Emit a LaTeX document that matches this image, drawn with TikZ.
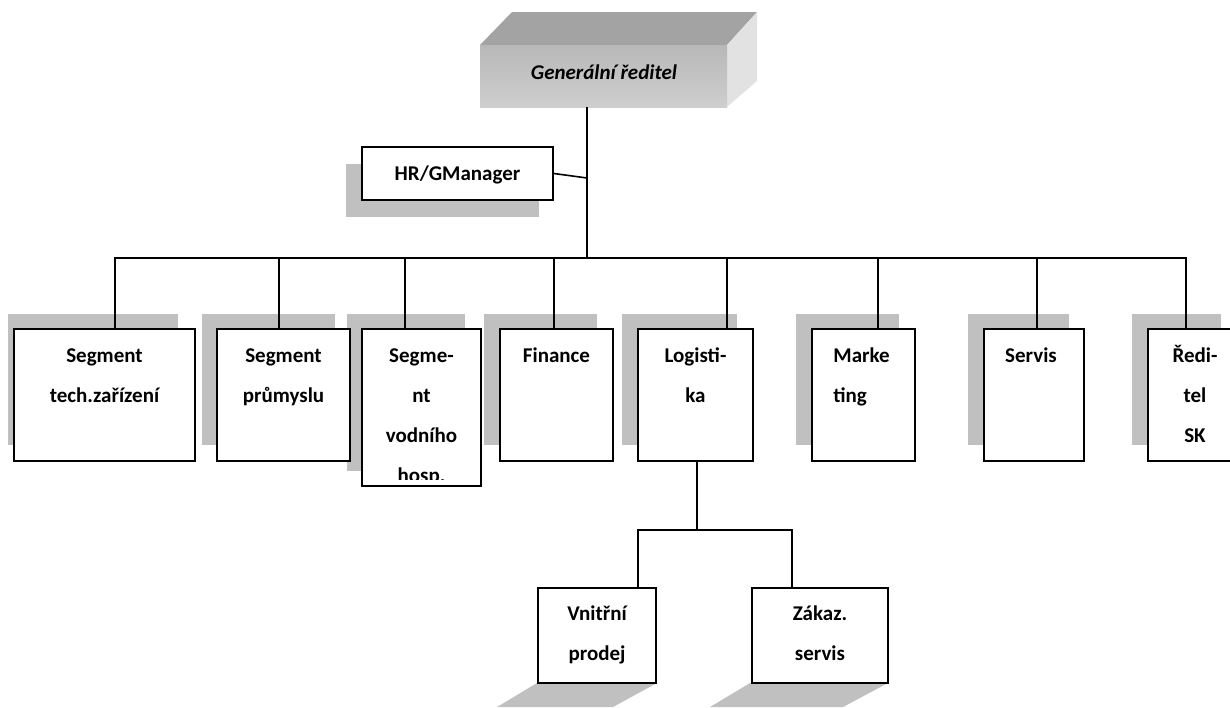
\documentclass[tikz,border=0pt]{standalone}
\usepackage{fontspec}
\setmainfont{Carlito}
\usetikzlibrary{fit}
\definecolor{shadowgray}{RGB}{192,192,192}
\definecolor{fronttop}{RGB}{184,184,184}
\definecolor{frontbot}{RGB}{206,206,206}
\definecolor{topface}{RGB}{163,163,163}
\definecolor{sideface}{RGB}{226,226,226}
\begin{document}
\begin{tikzpicture}[x=0.5pt,y=-0.5pt,
  box/.style={draw=black,line width=1pt,fill=white,inner sep=0pt},
  shadowbox/.style={fill=shadowgray,draw=none,inner sep=0pt},
  lbl/.style={font=\fontsize{10.5}{20}\selectfont\bfseries,align=center,inner sep=0pt,anchor=north},
  lbll/.style={lbl,align=left,anchor=north west},
  conn/.style={line width=0.8pt,line cap=rect}]
\clip (0,0) rectangle (1230,707);
% ---------- top 3D box ----------
\fill[topface] (480,45) -- (512,12) -- (757,12) -- (727,45) -- cycle;
\fill[sideface] (727,45) -- (757,12) -- (757,81) -- (727,107) -- cycle;
\node[fit={(480,45) (727,107)},inner sep=0pt,top color=fronttop,bottom color=frontbot,draw=none] (gr) {};
\node[font=\fontsize{10.5}{20}\selectfont\bfseries\itshape,inner sep=0pt,anchor=base] (grt) at (604,79) {Generální ředitel};
% ---------- HR ----------
\node[shadowbox,fit={(346,164) (539,217)}] (hrs) {};
\node[box,fit={(362,147) (553,200)}] (hr) {};
\node[font=\fontsize{10.5}{20}\selectfont\bfseries,inner sep=0pt,anchor=base] (hrt) at (hr.center |- 0,180) {HR/GManager};
% ---------- row shadows ----------
\node[shadowbox,fit={(8,314) (178,445)}] (s1) {};
\node[shadowbox,fit={(202,314) (335,445)}] (s2) {};
\node[shadowbox,fit={(347,314) (465,471)}] (s3) {};
\node[shadowbox,fit={(484,314) (597,445)}] (s4) {};
\node[shadowbox,fit={(622,314) (737,445)}] (s5) {};
\node[shadowbox,fit={(796,314) (899,445)}] (s6) {};
\node[shadowbox,fit={(968,314) (1069,445)}] (s7) {};
\node[shadowbox,fit={(1132,314) (1221,445)}] (s8) {};
% ---------- row boxes ----------
\node[box,fit={(14,329) (195,461)}] (b1) {};
\node[box,fit={(217,329) (350,461)}] (b2) {};
\node[box,fit={(362,329) (481,486)}] (b3) {};
\node[box,fit={(500,329) (613,461)}] (b4) {};
\node[box,fit={(638,329) (753,461)}] (b5) {};
\node[box,fit={(812,329) (915,461)}] (b6) {};
\node[box,fit={(984,329) (1084,461)}] (b7) {};
\node[box,fit={(1148,329) (1242,461)}] (b8) {};
% ---------- row labels ----------
\node[lbl] (t1) at (b1.north |- 0,334) {\strut Segment\\tech.zařízení};
\node[lbl] (t2) at (b2.north |- 0,334) {\strut Segment\\průmyslu};
\begin{scope}
\clip (363,330) rectangle (480,479);
\node[lbl] (t3) at (b3.north |- 0,334) {\strut Segme-\\nt\\vodního\\hosp.};
\end{scope}
\node[lbl] (t4) at (b4.north |- 0,334) {\strut Finance};
\node[lbl] (t5) at (b5.north |- 0,334) {\strut Logisti-\\ka};
\node[lbll] (t6) at (833,334) {\strut Marke\\ting};
\node[lbl] (t7) at (1031,334) {\strut Servis};
\node[lbl] (t8) at (1195,334) {\strut Ředi-\\tel\\SK};
% ---------- bottom shadows ----------
\fill[shadowgray] (537,683) -- (657,683) -- (613,707) -- (497,707) -- cycle;
\fill[shadowgray] (750,683) -- (888,683) -- (843,707) -- (710,707) -- cycle;
% ---------- bottom boxes ----------
\node[box,fit={(538,588) (656,683)}] (v) {};
\node[box,fit={(752,588) (888,683)}] (z) {};
\node[lbl] (tv) at (v.north |- 0,592) {\strut Vnitřní\\prodej};
\node[lbl] (tz) at (z.north |- 0,592) {\strut Zákaz.\\servis};
% ---------- connectors ----------
\coordinate (j0) at (587,258);
\coordinate (hrj) at (587,178);
\coordinate (d1) at (115,258);
\coordinate (d2) at (279,258);
\coordinate (d3) at (405,258);
\coordinate (d4) at (554,258);
\coordinate (d5) at (727,258);
\coordinate (d6) at (878,258);
\coordinate (d7) at (1037,258);
\coordinate (d8) at (1186,258);
\draw[conn] (gr.south -| j0) -- (j0);
\draw[conn] (hr.east) -- (hrj);
\draw[conn] (d1) -- (d8);
\draw[conn] (d1) -- (d1 |- b1.north);
\draw[conn] (d2) -- (d2 |- b2.north);
\draw[conn] (d3) -- (d3 |- b3.north);
\draw[conn] (d4) -- (d4 |- b4.north);
\draw[conn] (d5) -- (d5 |- b5.north);
\draw[conn] (d6) -- (d6 |- b6.north);
\draw[conn] (d7) -- (d7 |- b7.north);
\draw[conn] (d8) -- (d8 |- b8.north);
\coordinate (l0) at (697,530);
\coordinate (lL) at (638,530);
\coordinate (lR) at (792,530);
\draw[conn] (b5.south -| l0) -- (l0);
\draw[conn] (lL |- v.north) -- (lL) -- (lR) -- (lR |- z.north);
\end{tikzpicture}
\end{document}
